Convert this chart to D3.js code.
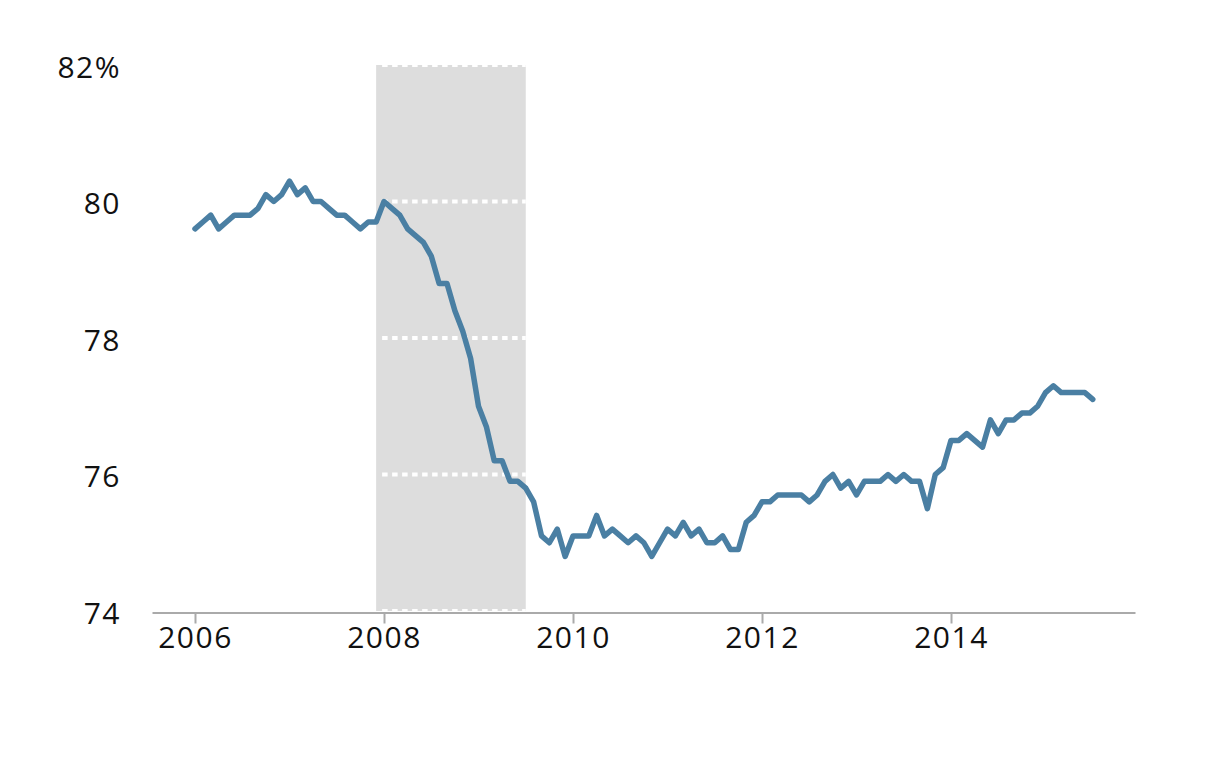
<!DOCTYPE html>
<html>
<head>
<meta charset="utf-8">
<script src="https://cdn.jsdelivr.net/npm/d3@7"></script>
<style>
  html, body { margin: 0; padding: 0; background: #fff; }
  svg text { font-family: "Open Sans", "Noto Sans", sans-serif; fill: #111; }
</style>
</head>
<body>
<svg id="chart" width="1216" height="761"></svg>
<script>
// Monthly series, Jan 2006 – Jul 2015 (percent)
const startYear = 2006;
const rate2006 = [79.6, 79.7, 79.8, 79.6, 79.7, 79.8, 79.8, 79.8, 79.9, 80.1, 80.0, 80.1];
const rate2007 = [80.3, 80.1, 80.2, 80.0, 80.0, 79.9, 79.8, 79.8, 79.7, 79.6, 79.7, 79.7];
const rate2008 = [80.0, 79.9, 79.8, 79.6, 79.5, 79.4, 79.2, 78.8, 78.8, 78.4, 78.1, 77.7];
const rate2009 = [77.0, 76.7, 76.2, 76.2, 75.9, 75.9, 75.8, 75.6, 75.1, 75.0, 75.2, 74.8];
const rate2010 = [75.1, 75.1, 75.1, 75.4, 75.1, 75.2, 75.1, 75.0, 75.1, 75.0, 74.8, 75.0];
const rate2011 = [75.2, 75.1, 75.3, 75.1, 75.2, 75.0, 75.0, 75.1, 74.9, 74.9, 75.3, 75.4];
const rate2012 = [75.6, 75.6, 75.7, 75.7, 75.7, 75.7, 75.6, 75.7, 75.9, 76.0, 75.8, 75.9];
const rate2013 = [75.7, 75.9, 75.9, 75.9, 76.0, 75.9, 76.0, 75.9, 75.9, 75.5, 76.0, 76.1];
const rate2014 = [76.5, 76.5, 76.6, 76.5, 76.4, 76.8, 76.6, 76.8, 76.8, 76.9, 76.9, 77.0];
const rate2015 = [77.2, 77.3, 77.2, 77.2, 77.2, 77.2, 77.1];

const xTicks = [2006, 2008, 2010, 2012, 2014];
const yTicks = [74, 76, 78, 80, 82];
const recession = [2007 + 11 / 12, 2009.5];
const xDomain = [2005.545, 2015.947];
const yDomain = [74, 82];

const values = [].concat(rate2006, rate2007, rate2008, rate2009, rate2010,
                         rate2011, rate2012, rate2013, rate2014, rate2015);
const data = values.map((v, i) => ({ t: startYear + i / 12, v }));

const svg = d3.select("#chart");
const x = d3.scaleLinear().domain(xDomain).range([152, 1135]);
const y = d3.scaleLinear().domain(yDomain).range([611, 65]);

// recession band
svg.append("rect")
  .attr("x", x(recession[0]))
  .attr("y", y(yDomain[1]))
  .attr("width", x(recession[1]) - x(recession[0]))
  .attr("height", y(yDomain[0]) - y(yDomain[1]))
  .attr("fill", "#dddddd");

// white dotted gridlines
svg.append("g")
  .selectAll("line")
  .data(yTicks)
  .join("line")
  .attr("x1", x(recession[0]) + 6)
  .attr("x2", x(recession[1]))
  .attr("y1", d => y(d))
  .attr("y2", d => y(d))
  .attr("stroke", "#fff")
  .attr("stroke-width", 4)
  .attr("stroke-dasharray", "5.5,4.5");

// x axis
const xAxis = svg.append("g")
  .attr("transform", `translate(0,${y(yDomain[0]) + 1.5})`)
  .call(d3.axisBottom(x).tickValues(xTicks).tickFormat(d3.format("d"))
        .tickSize(11).tickSizeOuter(0).tickPadding(3));
xAxis.select(".domain").attr("stroke", "#aaaaaa").attr("stroke-width", 2);
xAxis.selectAll(".tick line").attr("stroke", "#aaaaaa").attr("stroke-width", 2);
xAxis.selectAll(".tick text")
  .attr("font-size", 30).attr("letter-spacing", "1.5px")
  .attr("font-family", "'Open Sans', 'Noto Sans', sans-serif").attr("fill", "#111");

// y labels
const yAxis = svg.append("g")
  .attr("transform", "translate(121,0)")
  .call(d3.axisLeft(y).tickValues(yTicks)
        .tickFormat(d => d === 82 ? d + "%" : d).tickSize(0).tickPadding(0));
yAxis.select(".domain").remove();
yAxis.selectAll(".tick text")
  .attr("font-size", 30).attr("letter-spacing", "1.5px")
  .attr("dy", "0.4em")
  .attr("font-family", "'Open Sans', 'Noto Sans', sans-serif").attr("fill", "#111");

// line
svg.append("path")
  .datum(data)
  .attr("fill", "none")
  .attr("stroke", "#4a7fa3")
  .attr("stroke-width", 5.5)
  .attr("stroke-linejoin", "round")
  .attr("stroke-linecap", "round")
  .attr("d", d3.line().x(d => x(d.t)).y(d => y(d.v)));
</script>
</body>
</html>
